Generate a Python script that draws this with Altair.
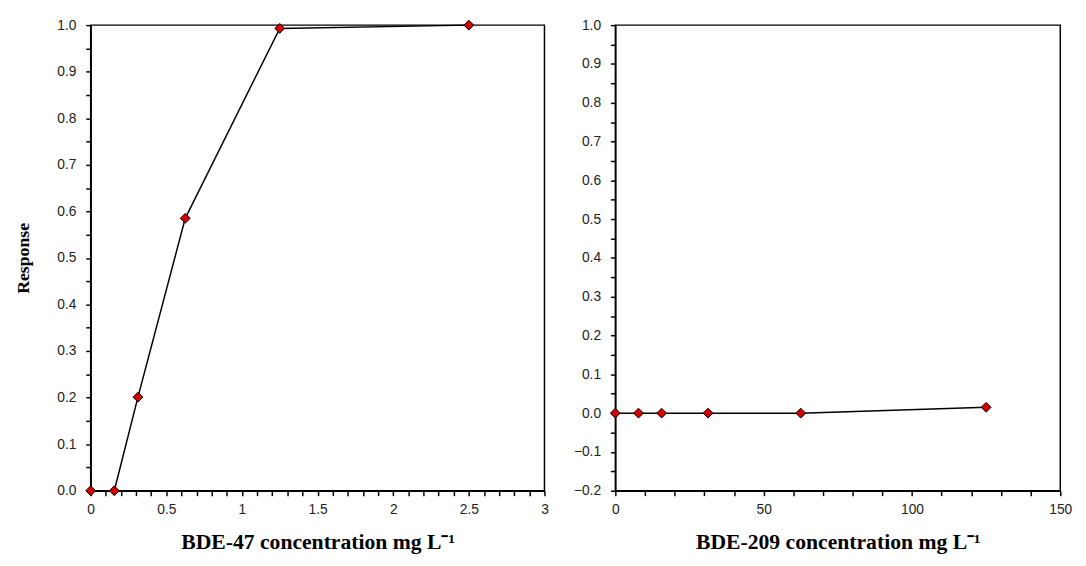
import altair as alt
import pandas as pd

# BDE-47 panel
x47 = [0, 0.156, 0.3125, 0.625, 1.25, 2.5]
y47 = [0.0, 0.0, 0.201, 0.585, 0.993, 1.0]
# BDE-209 panel
x209 = [0, 7.8, 15.6, 31.25, 62.5, 125]
y209 = [0.0, 0.0, 0.0, 0.0, 0.0, 0.015]

x47_ticks = [round(i * 0.1, 2) for i in range(0, 31)]
y47_ticks = [round(i * 0.05, 2) for i in range(0, 21)]
x209_ticks = list(range(0, 151, 10))
y209_ticks = [round(-0.2 + i * 0.05, 2) for i in range(0, 25)]

df47 = pd.DataFrame({"x": x47, "y": y47})
df209 = pd.DataFrame({"x": x209, "y": y209})

LABEL_FONT = "Liberation Sans"
TITLE_FONT = "Liberation Serif"


def axis_common(**kw):
    base = dict(
        domainColor="black", domainWidth=1.5, tickColor="black", tickWidth=1.5,
        tickSize=5, labelFont=LABEL_FONT, labelFontSize=14, labelColor="#222",
        titleFont=TITLE_FONT, titleFontWeight="bold",
        titleColor="black", labelOverlap=False, grid=False, labelFlush=False,
    )
    base.update(kw)
    return alt.Axis(**base)


def panel(df, xdom, ydom, xticks, yticks, xmajor_expr, ymajor_expr, xtitle, ytitle, width):
    xax = axis_common(values=xticks, title=xtitle, labelPadding=7, titlePadding=16,
                      titleFontSize=22,
                      labelExpr=f"({xmajor_expr}) ? format(datum.value, '~g') : ''")
    yax_kw = dict(values=yticks, labelPadding=10, titlePadding=25, titleFontSize=18,
                  labelExpr=f"({ymajor_expr}) ? format(datum.value, '.1f') : ''")
    if ytitle:
        yax = axis_common(title=ytitle, **yax_kw)
    else:
        yax = axis_common(title=None, **yax_kw)
    x = alt.X("x:Q", scale=alt.Scale(domain=xdom, nice=False, zero=False), axis=xax)
    y = alt.Y("y:Q", scale=alt.Scale(domain=ydom, nice=False, zero=False), axis=yax)
    base = alt.Chart(df).encode(x=x, y=y)
    line = base.mark_line(color="black", strokeWidth=1.5, clip=False)
    pts = base.mark_point(shape="diamond", filled=True, fill="#d40000", stroke="black",
                          strokeWidth=1, size=100, opacity=1, clip=False)
    return (line + pts).properties(width=width, height=473)


left = panel(df47, [0, 3], [0, 1], x47_ticks, y47_ticks,
             "round(datum.value*10) % 5 == 0",
             "round(datum.value*100) % 10 == 0",
             "BDE-47 concentration mg L\u207b\u00b9", "Response", 461)
right = panel(df209, [0, 150], [-0.2, 1], x209_ticks, y209_ticks,
              "datum.value % 50 == 0",
              "round(abs(datum.value)*100) % 10 == 0",
              "BDE-209 concentration mg L\u207b\u00b9", None, 452)

chart = alt.hconcat(left, right, spacing=23).configure(
    background="white"
).configure_view(stroke="black", strokeWidth=1.5)

chart.save("out.html", embed_options={"renderer": "svg", "actions": False})
